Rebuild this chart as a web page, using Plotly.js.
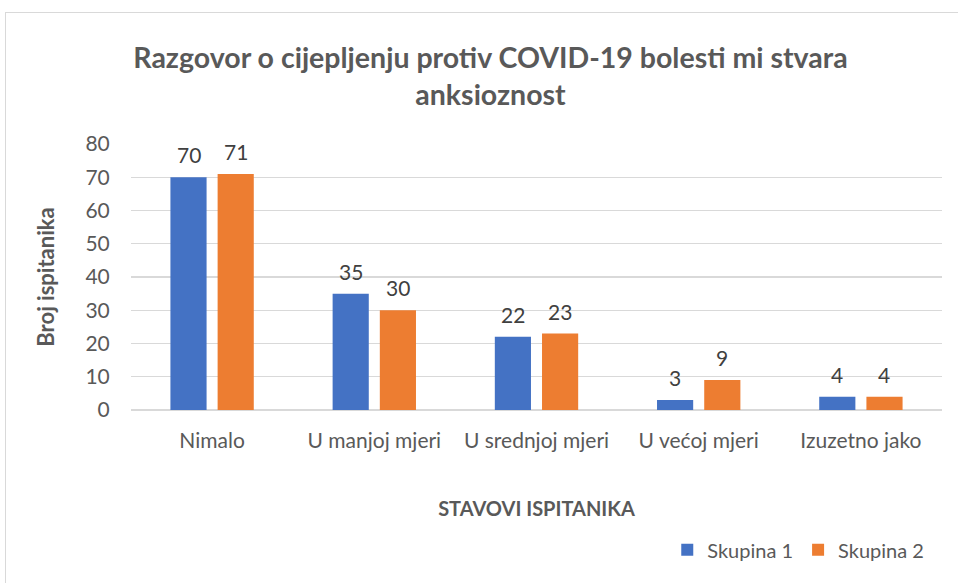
<!DOCTYPE html>
<html><head><meta charset="utf-8">
<script src="https://cdn.plot.ly/plotly-3.0.1.min.js"></script>
<style>
html,body{margin:0;padding:0;background:#fff;overflow:hidden}
#frame{position:absolute;left:5px;top:12px;width:960px;height:580px;border:1px solid #d9d9d9;box-sizing:border-box}
#chart{position:absolute;left:0;top:0;width:958px;height:583px}
</style></head>
<body><div id="frame"></div><div id="chart"></div>
<script>
const categories = ["Nimalo", "U manjoj mjeri", "U srednjoj mjeri", "U većoj mjeri", "Izuzetno jako"];
const skupina1 = [70, 35, 22, 3, 4];
const skupina2 = [71, 30, 23, 9, 4];
const seriesNames = ["Skupina 1", "Skupina 2"];
const yTicks = [0, 10, 20, 30, 40, 50, 60, 70, 80];

const font = "Lato, 'Open Sans', sans-serif";
const mk = (name, vals, color) => ({
  type: 'bar', name: name, x: categories, y: vals,
  marker: {color: color}
});
const data = [mk(seriesNames[0], skupina1, '#4472c4'), mk(seriesNames[1], skupina2, '#ed7d31')];
const annotations = [];
[[skupina1, -23.5], [skupina2, 23.5]].forEach(([vals, dx]) => {
  vals.forEach((v, i) => annotations.push({
    x: categories[i], y: v, xref: 'x', yref: 'y', text: String(v), showarrow: false,
    xshift: dx, yanchor: 'bottom', yshift: 8,
    font: {size: 21, color: '#404040', family: font}
  }));
});
const layout = {
  width: 958, height: 583,
  paper_bgcolor: 'rgba(0,0,0,0)', plot_bgcolor: 'rgba(0,0,0,0)',
  margin: {l: 131, r: 16, t: 144, b: 173, autoexpand: false},
  font: {family: font, color: '#595959', size: 20},
  annotations: annotations,
  title: {text: 'Razgovor o cijepljenju protiv COVID-19 bolesti mi stvara<br>anksioznost',
    font: {size: 28.5, color: '#595959', family: font, weight: 'bold'},
    x: 0.512, xanchor: 'center', xref: 'container', y: 0.884, yanchor: 'middle', yref: 'container'},
  barmode: 'group', bargap: 0.418, bargroupgap: 0.234,
  xaxis: {
    title: {text: 'STAVOVI ISPITANIKA', font: {size: 20, color: '#595959', weight: 'bold'}, standoff: 50},
    tickfont: {size: 21, color: '#595959'}, showline: false, ticks: 'outside', ticklen: 12, tickcolor: 'rgba(0,0,0,0)', automargin: false
  },
  yaxis: {
    title: {text: 'Broj ispitanika', font: {size: 22, color: '#595959', weight: 'bold'}, standoff: 24},
    range: [0, 80], tickvals: yTicks, ticktext: yTicks.map(String),
    tickfont: {size: 21, color: '#595959'}, gridcolor: '#d9d9d9', gridwidth: 1.3,
    zeroline: true, zerolinecolor: '#d9d9d9', zerolinewidth: 1.3, showline: false,
    ticks: 'outside', ticklen: 16, tickcolor: 'rgba(0,0,0,0)', automargin: false
  },
  showlegend: true,
  legend: {orientation: 'h', xref: 'container', yref: 'container', x: 0.97, xanchor: 'right', y: 0.057, yanchor: 'middle',
    font: {size: 20, color: '#595959'}, itemwidth: 30, traceorder: 'normal'}
};
Plotly.newPlot('chart', data, layout, {displayModeBar: false, staticPlot: true});
</script></body></html>
